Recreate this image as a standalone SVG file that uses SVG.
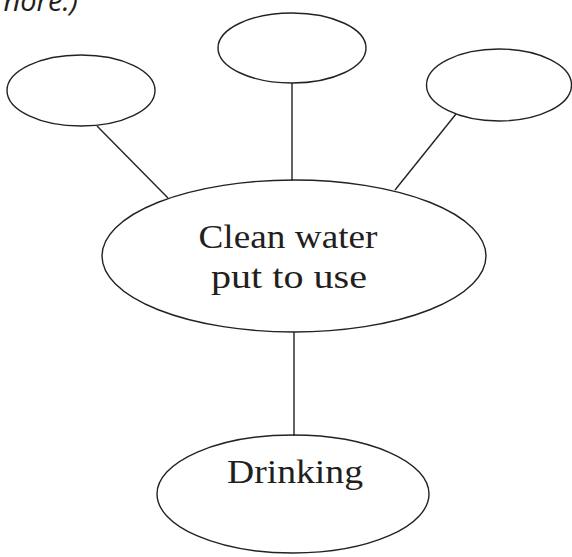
<svg xmlns="http://www.w3.org/2000/svg" width="572" height="557" viewBox="0 0 572 557">
<style>
.n{fill:none;stroke:#222;stroke-width:1.4}
.c{stroke:#222;stroke-width:1.4;fill:none}
.t{font-family:"Liberation Serif",serif;font-size:34px;fill:#231f20}
.i{font-family:"Open Sans","Liberation Sans",sans-serif;font-style:italic;font-size:29px;fill:#231f20}
</style>
<rect width="572" height="557" fill="#fff"/>
<text class="i" x="78" y="11" text-anchor="end">nore.)</text>
<g id="connectors">
<line class="c" x1="97" y1="126" x2="168" y2="198"/>
<line class="c" x1="292" y1="83" x2="292" y2="181"/>
<line class="c" x1="456" y1="114" x2="395" y2="190"/>
<line class="c" x1="294" y1="332" x2="294" y2="436"/>
</g>
<g id="node-left"><ellipse class="n" cx="81" cy="90.5" rx="74" ry="35.5"/></g>
<g id="node-top"><ellipse class="n" cx="292" cy="48" rx="74" ry="35"/></g>
<g id="node-right"><ellipse class="n" cx="499" cy="85" rx="72.5" ry="36"/></g>
<g id="node-center">
<ellipse class="n" cx="294" cy="256" rx="192" ry="76"/>
<text class="t" x="288" y="248" text-anchor="middle" textLength="179" lengthAdjust="spacingAndGlyphs">Clean water</text>
<text class="t" x="289" y="288" text-anchor="middle" textLength="156" lengthAdjust="spacingAndGlyphs">put to use</text>
</g>
<g id="node-drinking">
<ellipse class="n" cx="293" cy="494" rx="136" ry="59"/>
<text class="t" x="295" y="483" text-anchor="middle" textLength="136" lengthAdjust="spacingAndGlyphs">Drinking</text>
</g>
</svg>
